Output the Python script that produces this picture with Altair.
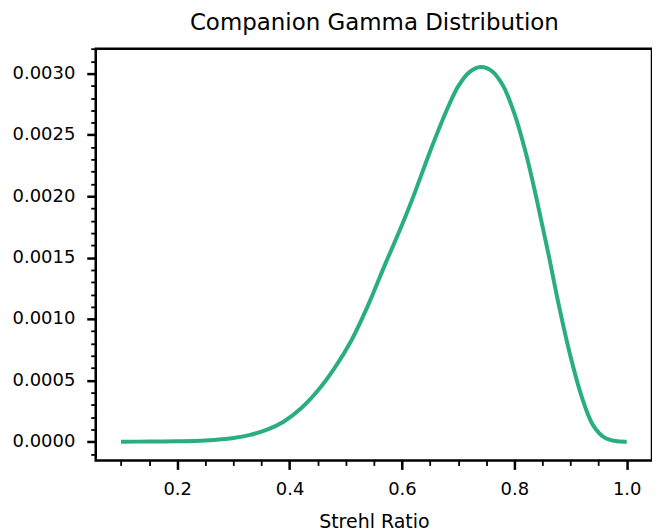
import altair as alt
import pandas as pd

strehl = [0.10, 0.15, 0.20, 0.25, 0.30, 0.33, 0.36, 0.39, 0.42, 0.45, 0.48, 0.51,
          0.54, 0.57, 0.60, 0.62, 0.65, 0.68, 0.70, 0.72, 0.74, 0.76, 0.78, 0.80,
          0.82, 0.84, 0.86, 0.88, 0.90, 0.92, 0.94, 0.96, 0.98, 1.00]
density = [0.0, 0.000001, 0.000003, 0.000010, 0.000030, 0.000056, 0.000098, 0.000165,
           0.000270, 0.000415, 0.000600, 0.000825, 0.001115, 0.001445, 0.001765,
           0.001995, 0.002365, 0.002705, 0.002895, 0.003012, 0.003053, 0.003020,
           0.002900, 0.002675, 0.002360, 0.001970, 0.001545, 0.001095, 0.000695,
           0.000365, 0.000135, 0.000035, 0.000005, 0.0]

x_major = [0.2, 0.4, 0.6, 0.8, 1.0]
x_minor = [0.1, 0.15, 0.25, 0.3, 0.35, 0.45, 0.5, 0.55, 0.65, 0.7, 0.75, 0.85, 0.9, 0.95]
y_major = [0.0, 0.0005, 0.001, 0.0015, 0.002, 0.0025, 0.003]
y_minor = [-0.0001, 0.0001, 0.0002, 0.0003, 0.0004, 0.0006, 0.0007, 0.0008, 0.0009,
           0.0011, 0.0012, 0.0013, 0.0014, 0.0016, 0.0017, 0.0018, 0.0019,
           0.0021, 0.0022, 0.0023, 0.0024, 0.0026, 0.0027, 0.0028, 0.0029,
           0.0031, 0.0032]

chart_title = "Companion Gamma Distribution"
x_title = "Strehl Ratio"

df = pd.DataFrame({"strehl": strehl, "density": density})

FONT = "DejaVu Sans"
xscale = alt.Scale(domain=[0.055, 1.045], nice=False, zero=False)
yscale = alt.Scale(domain=[-0.0001525, 0.0032025], nice=False, zero=False)

major = alt.Chart(df).mark_line(color="#2aae80", strokeWidth=4, interpolate="catmull-rom").encode(
    x=alt.X("strehl:Q", scale=xscale,
            axis=alt.Axis(values=x_major, format=".1f", title=x_title, orient="bottom",
                          titleFont=FONT, titleFontSize=19, titleFontWeight="normal",
                          titleColor="black", titleBaseline="alphabetic", titleY=67,
                          labelFont=FONT, labelFontSize=18, labelColor="black",
                          labelPadding=11, labelOverlap=False, labelFlush=False,
                          tickSize=9, tickWidth=2.5, tickColor="black",
                          domain=False, grid=False)),
    y=alt.Y("density:Q", scale=yscale,
            axis=alt.Axis(values=y_major, format=".4f", title=None, orient="left",
                          labelFont=FONT, labelFontSize=18, labelColor="black",
                          labelPadding=12, labelOverlap=False, labelFlush=False,
                          tickSize=9, tickWidth=2.5, tickColor="black",
                          domain=False, grid=False)),
)

minor = alt.Chart(df).mark_line(strokeOpacity=0).encode(
    x=alt.X("strehl:Q", scale=xscale,
            axis=alt.Axis(values=x_minor, labels=False, title=None, orient="bottom",
                          tickSize=5, tickWidth=1.8, tickColor="black",
                          domain=False, grid=False)),
    y=alt.Y("density:Q", scale=yscale,
            axis=alt.Axis(values=y_minor, labels=False, title=None, orient="left",
                          tickSize=5, tickWidth=1.8, tickColor="black",
                          domain=False, grid=False)),
)

# top axis used only to carry the chart title
top = alt.Chart(df).mark_line(strokeOpacity=0).encode(
    x=alt.X("strehl:Q", scale=xscale,
            axis=alt.Axis(values=[], labels=False, ticks=False, domain=False, grid=False,
                          orient="top", title=chart_title,
                          titleFont=FONT, titleFontSize=23, titleFontWeight="normal",
                          titleColor="black", titleBaseline="alphabetic", titleY=-19)),
    y=alt.Y("density:Q", scale=yscale, axis=None),
)

chart = alt.layer(major, minor, top).resolve_axis(x="independent", y="independent").properties(
    width=558,
    height=413,
    autosize=alt.AutoSizeParams(type="none"),
    padding={"left": 88, "top": 40, "right": 0, "bottom": 70},
).configure_view(stroke="black", strokeWidth=2.5)

chart.save("out.html", embed_options={"renderer": "svg", "actions": False})
